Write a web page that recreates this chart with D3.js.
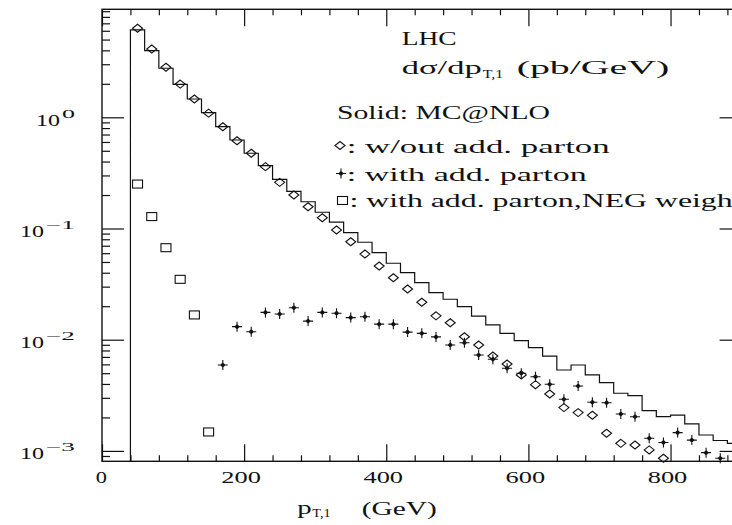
<!DOCTYPE html>
<html>
<head>
<meta charset="utf-8">
<script src="https://cdn.jsdelivr.net/npm/d3@7"></script>
<style>
  body { margin: 0; background: #fff; }
  text { font-family: "Liberation Serif", serif; fill: #111; }
</style>
</head>
<body>
<div id="chart"></div>
<script>
// histogram bins (lower edge, GeV), width 20
var binLow = [40, 60, 80, 100, 120, 140, 160, 180, 200, 220, 240, 260, 280, 300, 320, 340, 360, 380, 400, 420,
  440, 460, 480, 500, 520, 540, 560, 580, 600, 620, 640, 660, 680, 700, 720, 740, 760, 780, 800, 820, 840, 860, 880]
var histVals = [6.1, 3.97, 2.76, 1.98, 1.46, 1.10, 0.823, 0.625, 0.475, 0.367, 0.277, 0.216, 0.174, 0.140, 0.114,
  0.0917, 0.0752, 0.0606, 0.0487, 0.0401, 0.0326, 0.0265, 0.0231, 0.0198, 0.0163, 0.0136, 0.0114, 0.0098,
  0.00848, 0.00713, 0.00534, 0.00592, 0.00482, 0.00411, 0.0033, 0.00314, 0.0023, 0.00203, 0.0021, 0.00175,
  0.00139, 0.00124, 0.00117]

// w/out add. parton (diamonds)
var diamondPt = [50, 70, 90, 110, 130, 150, 170, 190, 210, 230, 250, 270, 290, 310, 330, 350, 370, 390, 410, 430,
  450, 470, 490, 510, 530, 550, 570, 590, 610, 630, 650, 670, 690, 710, 730, 750, 770, 790]
var diamondVals = [6.32, 4.11, 2.82, 1.99, 1.46, 1.09, 0.823, 0.616, 0.475, 0.36, 0.26, 0.2, 0.157, 0.125, 0.0969,
  0.076, 0.059, 0.046, 0.0361, 0.0286, 0.0217, 0.0164, 0.0142, 0.01064, 0.00896, 0.00713, 0.00604, 0.00482,
  0.00394, 0.00325, 0.00245, 0.00221, 0.00209, 0.00144, 0.00117, 0.00113, 0.00102, 0.000858]

// with add. parton (stars)
var starPt = [170, 190, 210, 230, 250, 270, 290, 310, 330, 350, 370, 390, 410, 430, 450, 470, 490, 510, 530, 550,
  570, 590, 610, 630, 650, 670, 690, 710, 730, 750, 770, 790, 810, 830, 850, 870]
var starVals = [0.00592, 0.0131, 0.0118, 0.0176, 0.017, 0.0194, 0.0147, 0.0176, 0.0173, 0.0158, 0.0161, 0.0138,
  0.0138, 0.0117, 0.0114, 0.0106, 0.00896, 0.0094, 0.00728, 0.00667, 0.00553, 0.00499, 0.00465, 0.00397,
  0.00291, 0.00383, 0.00274, 0.00271, 0.00215, 0.00203, 0.0013, 0.00119, 0.00146, 0.00125, 0.000964, 0.000858]

// with add. parton, negative weight (squares)
var squarePt = [50, 70, 90, 110, 130, 150]
var squareVals = [0.251, 0.128, 0.0672, 0.0349, 0.0167, 0.00148]

var xMajor = [0, 200, 400, 600, 800]
var yMajor = [1e-3, 1e-2, 1e-1, 1]
var yExp = ['\u22123', '\u22122', '\u22121', '0']

var width = 732, height = 525
var pLeft = 102, pRight = 741.6, pTop = 9.3, pBottom = 461.3

var svg = d3.select('#chart').append('svg')
  .attr('width', width)
  .attr('height', height)

var x = d3.scaleLinear().domain([0, 900]).range([pLeft, pRight])
var y = d3.scaleLog()
  .domain([Math.pow(10, -(pBottom - 117.3) / 111.2), Math.pow(10, (117.3 - pTop) / 111.2)])
  .range([pBottom, pTop])

var minorY = []
for (var e = -4; e <= 1; e++) {
  for (var m = 2; m <= 9; m++) {
    var v = m * Math.pow(10, e)
    if (v > y.domain()[0] && v < y.domain()[1]) minorY.push(v)
  }
}
var minorX = d3.range(40, 900, 40).filter(function (d) { return d % 200 !== 0 })

function styleAxis (g) {
  g.select('.domain').remove()
  g.selectAll('line').attr('stroke', '#111').attr('stroke-width', 1.2)
  g.selectAll('text').remove()
}

// ticks on all four sides, pointing inward
svg.append('g').attr('transform', 'translate(0,' + pTop + ')')
  .call(d3.axisBottom(x).tickValues(xMajor).tickSize(17)).call(styleAxis)
svg.append('g').attr('transform', 'translate(0,' + pTop + ')')
  .call(d3.axisBottom(x).tickValues(minorX).tickSize(6)).call(styleAxis)
svg.append('g').attr('transform', 'translate(0,' + pBottom + ')')
  .call(d3.axisTop(x).tickValues(xMajor).tickSize(17)).call(styleAxis)
svg.append('g').attr('transform', 'translate(0,' + pBottom + ')')
  .call(d3.axisTop(x).tickValues(minorX).tickSize(6)).call(styleAxis)
svg.append('g').attr('transform', 'translate(' + pLeft + ',0)')
  .call(d3.axisRight(y).tickValues(yMajor).tickSize(22)).call(styleAxis)
svg.append('g').attr('transform', 'translate(' + pLeft + ',0)')
  .call(d3.axisRight(y).tickValues(minorY).tickSize(8)).call(styleAxis)
svg.append('g').attr('transform', 'translate(' + pRight + ',0)')
  .call(d3.axisLeft(y).tickValues(yMajor).tickSize(22)).call(styleAxis)
svg.append('g').attr('transform', 'translate(' + pRight + ',0)')
  .call(d3.axisLeft(y).tickValues(minorY).tickSize(8)).call(styleAxis)

svg.append('rect')
  .attr('x', pLeft).attr('y', pTop)
  .attr('width', pRight - pLeft).attr('height', pBottom - pTop)
  .attr('fill', 'none').attr('stroke', '#111').attr('stroke-width', 1.4)

// tick labels
svg.selectAll('.xlab').data(xMajor).enter().append('text')
  .attr('class', 'xlab')
  .attr('x', function (d) { return x(d) - (d === 0 ? 0.7 : 3) })
  .attr('y', 483.3)
  .attr('text-anchor', 'middle')
  .attr('font-size', 17)
  .attr('textLength', function (d) { return String(d).length * 14.2 - 3 })
  .attr('lengthAdjust', 'spacingAndGlyphs')
  .text(function (d) { return d })

yMajor.forEach(function (d, i) {
  var supW = yExp[i].length === 1 ? 13 : 29
  var supX = 75 - supW
  svg.append('text')
    .attr('x', supX - 2).attr('y', y(d) + 8.5)
    .attr('text-anchor', 'end')
    .attr('font-size', 16)
    .attr('textLength', 24).attr('lengthAdjust', 'spacingAndGlyphs')
    .text('10')
  svg.append('text')
    .attr('x', supX).attr('y', y(d) + 0.5)
    .attr('font-size', 12)
    .attr('textLength', supW).attr('lengthAdjust', 'spacingAndGlyphs')
    .text(yExp[i])
})

// axis title
svg.append('text').attr('x', 297.3).attr('y', 514).attr('font-size', 19)
  .attr('textLength', 14.4).attr('lengthAdjust', 'spacingAndGlyphs').text('p')
svg.append('text').attr('x', 312.3).attr('y', 517).attr('font-size', 12)
  .attr('textLength', 18.4).attr('lengthAdjust', 'spacingAndGlyphs').text('T,1')
svg.append('text').attr('x', 361.7).attr('y', 514.5).attr('font-size', 19)
  .attr('textLength', 75).attr('lengthAdjust', 'spacingAndGlyphs').text('(GeV)')

// MC@NLO histogram
var histPts = [[binLow[0], y.domain()[0]]]
binLow.forEach(function (d, i) { histPts.push([d, histVals[i]]) })
histPts.push([binLow[binLow.length - 1] + 20, histVals[histVals.length - 1]])

var line = d3.line()
  .x(function (d) { return x(d[0]) })
  .y(function (d) { return y(d[1]) })
  .curve(d3.curveStepAfter)

svg.append('path')
  .attr('d', line(histPts))
  .attr('fill', 'none')
  .attr('stroke', '#111')
  .attr('stroke-width', 1.2)

var diamondPath = 'M0,-4L5,0L0,4L-5,0Z'
var starPath = 'M-5,0H5M0,-5V5M0,-2L2,0L0,2L-2,0Z'

function drawMarkers (pts, vals, shape) {
  var g = svg.append('g')
  pts.forEach(function (d, i) {
    var cx = x(d), cy = y(vals[i])
    if (shape === 'square') {
      g.append('rect')
        .attr('x', cx - 5).attr('y', cy - 4)
        .attr('width', 10).attr('height', 8)
        .attr('fill', 'none').attr('stroke', '#111').attr('stroke-width', 1.1)
    } else {
      g.append('path')
        .attr('transform', 'translate(' + cx + ',' + cy + ')')
        .attr('d', shape === 'diamond' ? diamondPath : starPath)
        .attr('fill', shape === 'diamond' ? 'none' : '#fff')
        .attr('stroke', '#111').attr('stroke-width', 1.1)
    }
  })
}
drawMarkers(diamondPt, diamondVals, 'diamond')
drawMarkers(starPt, starVals, 'star')
drawMarkers(squarePt, squareVals, 'square')

// labels
function label (str, lx, ly, size, len) {
  svg.append('text').attr('x', lx).attr('y', ly).attr('font-size', size)
    .attr('textLength', len).attr('lengthAdjust', 'spacingAndGlyphs').text(str)
}
label('LHC', 401.7, 45, 19, 55)
label('d\u03c3/dp', 401.7, 74, 19, 80)
label('T,1', 482.7, 77.5, 12, 20.5)
label('(pb/GeV)', 516.7, 74, 19, 152.6)
label('Solid: MC@NLO', 337, 119, 19, 213)

svg.append('path').attr('transform', 'translate(340,145.5)').attr('d', diamondPath)
  .attr('fill', 'none').attr('stroke', '#111').attr('stroke-width', 1.1)
label(': w/out add. parton', 346.7, 152.5, 19, 263)

svg.append('path').attr('transform', 'translate(341,173.5)').attr('d', starPath)
  .attr('fill', '#fff').attr('stroke', '#111').attr('stroke-width', 1.1)
label(': with add. parton', 346.7, 181, 19, 240)

svg.append('rect').attr('x', 337.5).attr('y', 196.5).attr('width', 10).attr('height', 8)
  .attr('fill', 'none').attr('stroke', '#111').attr('stroke-width', 1.1)
label(': with add. parton,NEG weight', 349.5, 207, 19, 392)
</script>
</body>
</html>
